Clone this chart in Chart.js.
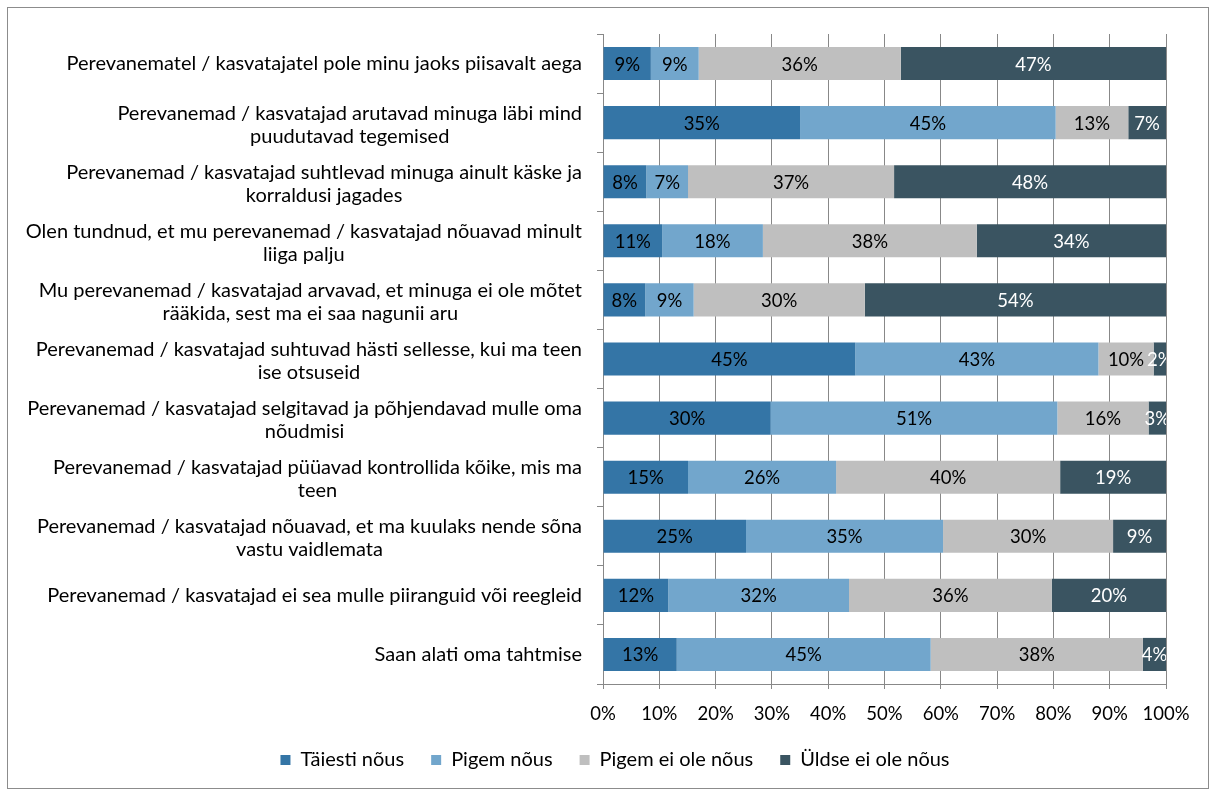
<!DOCTYPE html>
<html>
<head>
<meta charset="utf-8">
<script src="https://cdn.jsdelivr.net/npm/chart.js@4.4.1/dist/chart.umd.min.js"></script>
<style>
    html, body { margin: 0; padding: 0; background: #ffffff; }
    #wrap { width: 1216px; height: 794px; position: relative; }
</style>
</head>
<body>
<div id="wrap"><canvas id="chart" width="1216" height="794"></canvas></div>
<script>
// ==========================================
// DATA
// ==========================================
const categories = [
    ['Perevanematel / kasvatajatel pole minu jaoks piisavalt aega'],
    ['Perevanemad / kasvatajad arutavad minuga läbi mind', 'puudutavad tegemised'],
    ['Perevanemad / kasvatajad suhtlevad minuga ainult käske ja', 'korraldusi jagades'],
    ['Olen tundnud, et mu perevanemad / kasvatajad nõuavad minult', 'liiga palju'],
    ['Mu perevanemad / kasvatajad arvavad, et minuga ei ole mõtet', 'rääkida, sest ma ei saa nagunii aru'],
    ['Perevanemad / kasvatajad suhtuvad hästi sellesse, kui ma teen', 'ise otsuseid'],
    ['Perevanemad / kasvatajad selgitavad ja põhjendavad mulle oma', 'nõudmisi'],
    ['Perevanemad / kasvatajad püüavad kontrollida kõike, mis ma', 'teen'],
    ['Perevanemad / kasvatajad nõuavad, et ma kuulaks nende sõna', 'vastu vaidlemata'],
    ['Perevanemad / kasvatajad ei sea mulle piiranguid või reegleid'],
    ['Saan alati oma tahtmise']
];

const seriesNames = ['Täiesti nõus', 'Pigem nõus', 'Pigem ei ole nõus', 'Üldse ei ole nõus'];

const taiestiNous   = [8.5, 35.0, 7.7, 10.5, 7.5, 44.8, 29.8, 15.1, 25.4, 11.6, 13.1];
const pigemNous     = [8.5, 45.4, 7.4, 17.9, 8.6, 43.2, 50.9, 26.3, 35.0, 32.1, 45.1];
const pigemEiNous   = [35.9, 12.9, 36.6, 38.0, 30.4, 9.8, 16.2, 39.8, 30.2, 36.0, 37.7];
const uldseEiNous   = [47.1, 6.7, 48.3, 33.6, 53.5, 2.2, 3.1, 18.8, 9.4, 20.3, 4.1];

const tickLabels = ['0%', '10%', '20%', '30%', '40%', '50%', '60%', '70%', '80%', '90%', '100%'];

// ==========================================
// STYLE
// ==========================================
const FONT_FAMILY = 'Lato, "Open Sans", sans-serif';
const TEXT_SIZE = 20;      // category labels + legend
const NUM_SIZE = 18.5;     // tick labels + segment labels
const seriesColors = ['#3475a6', '#72a6cc', '#bfbfbf', '#3a5461'];
const labelColors = ['#000000', '#000000', '#000000', '#ffffff'];
const GRID = '#888888';
const LEGEND_PAD = 27;

// outer frame round the whole chart
const framePlugin = {
    id: 'frame',
    beforeDraw(chart) {
        const ctx = chart.ctx;
        ctx.save();
        ctx.fillStyle = '#ffffff';
        ctx.fillRect(0, 0, chart.width, chart.height);
        ctx.strokeStyle = '#8c8c8c';
        ctx.lineWidth = 1;
        ctx.strokeRect(7.5, 7.5, 1201, 781);
        ctx.restore();
    }
};

// category labels: lines centred on each other, block right-aligned near the axis
const categoryLabelPlugin = {
    id: 'categoryLabels',
    afterDraw(chart) {
        const ctx = chart.ctx;
        const yScale = chart.scales.y;
        const right = chart.chartArea.left - 21;
        const lineHeight = 23;
        ctx.save();
        ctx.font = `${TEXT_SIZE}px ${FONT_FAMILY}`;
        ctx.fillStyle = '#000000';
        ctx.textAlign = 'center';
        ctx.textBaseline = 'middle';
        categories.forEach((lines, i) => {
            const w = Math.max(...lines.map(l => ctx.measureText(l).width));
            const cx = right - w / 2;
            const cy = yScale.getPixelForValue(i) + (lines.length > 1 ? 2 : 0);
            lines.forEach((line, k) => {
                ctx.fillText(line, cx, cy + (k - (lines.length - 1) / 2) * lineHeight);
            });
        });
        ctx.restore();
    }
};

// percentage labels in the middle of each segment, clipped to the plot area
const valueLabelPlugin = {
    id: 'valueLabels',
    afterDatasetsDraw(chart) {
        const ctx = chart.ctx;
        const area = chart.chartArea;
        ctx.save();
        ctx.beginPath();
        ctx.rect(area.left, area.top, area.right - area.left, area.bottom - area.top);
        ctx.clip();
        ctx.font = `${NUM_SIZE}px ${FONT_FAMILY}`;
        ctx.textAlign = 'center';
        ctx.textBaseline = 'middle';
        chart.data.datasets.forEach((ds, di) => {
            const meta = chart.getDatasetMeta(di);
            ctx.fillStyle = labelColors[di];
            meta.data.forEach((bar, i) => {
                const cx = (bar.x + bar.base) / 2;
                ctx.fillText(Math.round(ds.data[i]) + '%', cx, bar.y + 1);
            });
        });
        ctx.restore();
    }
};

const seriesData = [taiestiNous, pigemNous, pigemEiNous, uldseEiNous];

new Chart(document.getElementById('chart').getContext('2d'), {
    type: 'bar',
    data: {
        labels: categories.map(c => c.join(' ')),
        datasets: seriesNames.map((name, i) => ({
            label: name,
            data: seriesData[i],
            backgroundColor: seriesColors[i],
            borderWidth: 0,
            categoryPercentage: 1.0,
            barPercentage: 0.56
        }))
    },
    options: {
        indexAxis: 'y',
        responsive: false,
        animation: false,
        layout: { padding: { top: 34, right: 50, bottom: 14, left: 64 } },
        scales: {
            x: {
                stacked: true,
                min: 0,
                max: 100,
                ticks: {
                    stepSize: 10,
                    color: '#000000',
                    font: { family: FONT_FAMILY, size: NUM_SIZE },
                    padding: 14,
                    maxRotation: 0,
                    callback: (v, i) => tickLabels[i]
                },
                grid: { color: GRID, tickLength: 5, tickColor: GRID },
                border: { color: GRID },
                afterFit(scale) { scale.height = 66 - LEGEND_PAD; }
            },
            y: {
                stacked: true,
                ticks: { display: false },
                grid: { offset: true, drawOnChartArea: false, tickLength: 6, color: GRID },
                border: { color: GRID },
                afterFit(scale) { scale.width = 603 - 64; }
            }
        },
        plugins: {
            legend: {
                position: 'bottom',
                labels: {
                    color: '#000000',
                    font: { family: FONT_FAMILY, size: TEXT_SIZE },
                    boxWidth: 10,
                    boxHeight: 10,
                    padding: LEGEND_PAD
                }
            },
            tooltip: { enabled: false }
        }
    },
    plugins: [framePlugin, categoryLabelPlugin, valueLabelPlugin]
});
</script>
</body>
</html>
